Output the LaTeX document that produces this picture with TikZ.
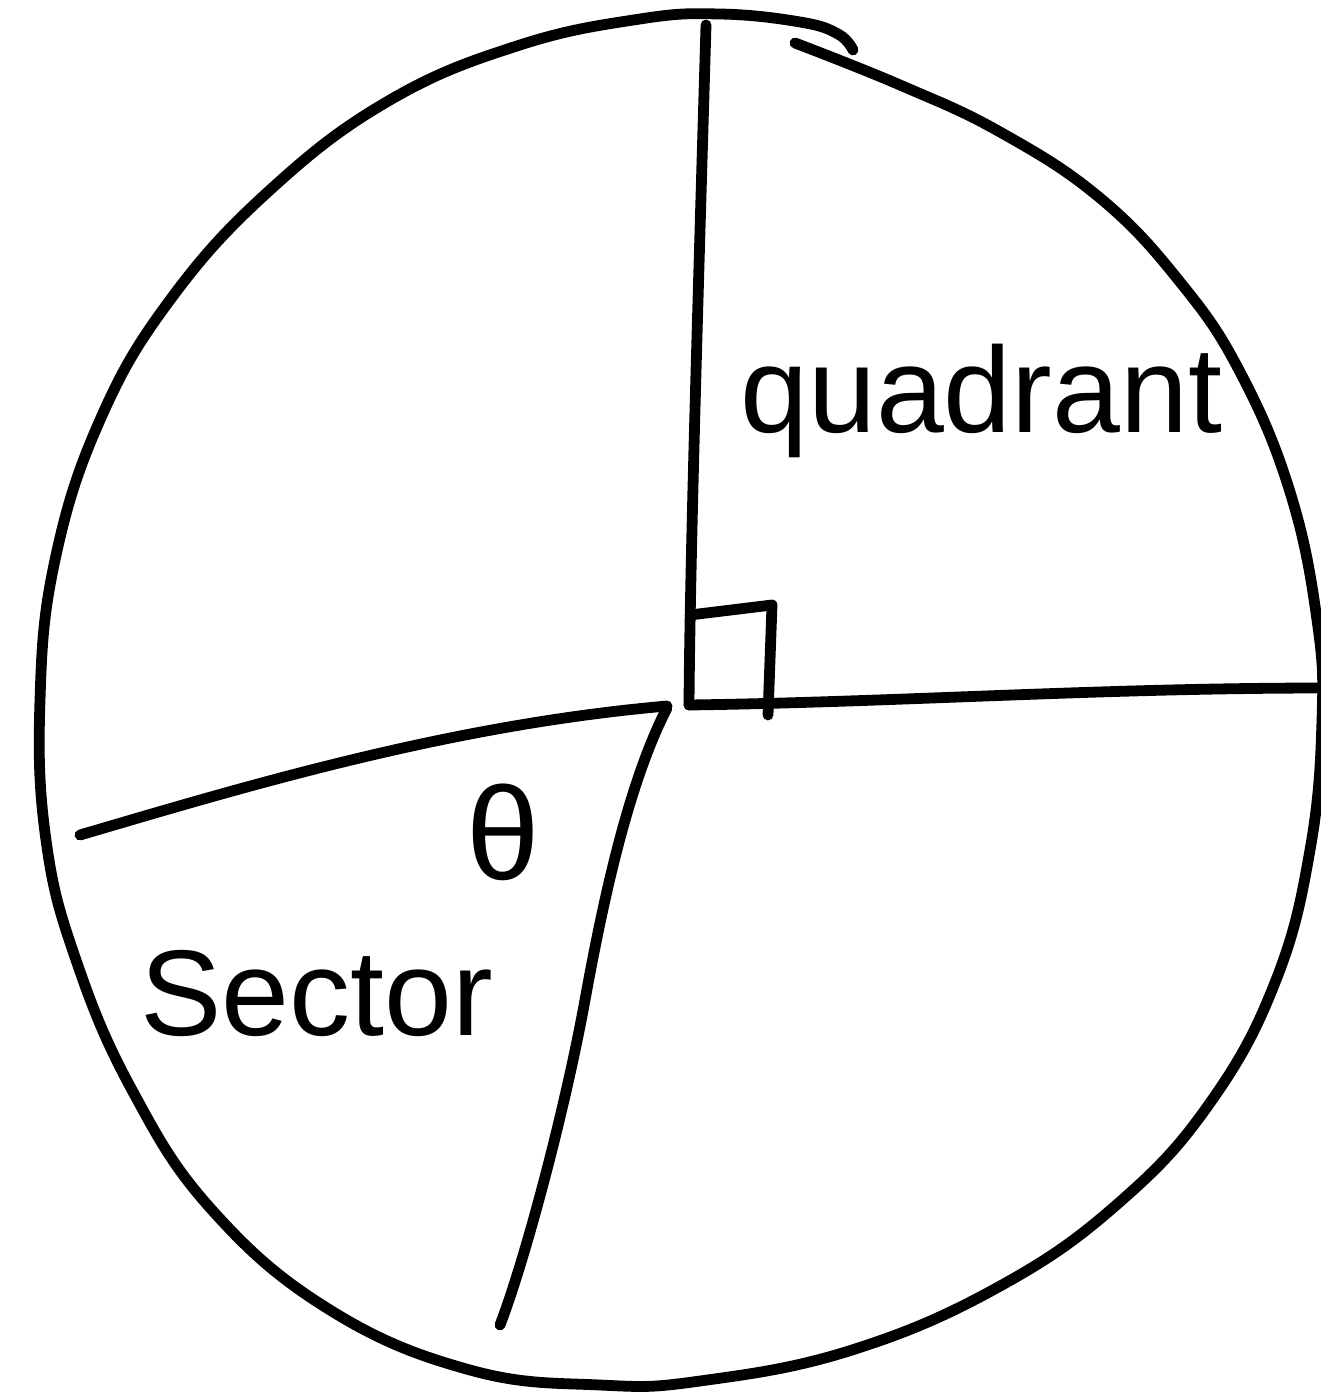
\documentclass[tikz,border=0pt]{standalone}
\usepackage{fontspec}
\setmainfont{Liberation Sans}
\begin{document}
\begin{tikzpicture}[x=0.5pt,y=-0.5pt,
  pen/.style={line width=5.4pt, line cap=round, line join=round, black},
  lbl/.style={anchor=base west, inner sep=0pt, font=\fontsize{61}{70}\selectfont}]
\useasboundingbox (0,0) rectangle (1321,1396);
\fill[white] (0,0) rectangle (1321,1396);
\clip (0,0) rectangle (1321,1396);
% key points
\coordinate (O) at (689,705);
\coordinate (top) at (706,25);
\coordinate (east) at (1325,688);
\coordinate (west) at (80,835);
\coordinate (south) at (500,1325);
% circle (hand drawn, open with hook at top)
\draw[pen] plot[smooth, tension=0.7] coordinates {
 (795,43) (900,85) (1000,132) (1100,198) (1180,282) (1240,372) (1290,492)
 (1317,620) (1322,720) (1310,850) (1276,980) (1212,1100) (1122,1200)
 (1002,1285) (852,1350) (700,1381) (600,1385) (470,1370) (330,1310)
 (212,1210) (132,1090) (76,960) (46,840) (40,700) (55,560) (100,420)
 (170,300) (270,190) (390,100) (520,45) (640,19) (720,14) (800,22)
 (838,34) (853,50)};
% vertical radius
\draw[pen] (top) .. controls (698,300) and (690,560) .. (O);
% horizontal radius to the right
\draw[pen] (O) .. controls (900,702) and (1100,688) .. (east);
% left radius
\draw[pen] (667,706) .. controls (450,725) and (250,785) .. (west);
% lower radius
\draw[pen] (667,708) .. controls (630,780) and (605,890) .. (585,1000)
  .. controls (565,1110) and (525,1260) .. (south);
% right-angle mark
\draw[pen] (690,615) -- (772,605) -- (768,715);
% labels
\node[lbl] (quad) at (740,432) {quadrant};
\node[lbl] (sect) at (140,1035) {Sector};
\node[inner sep=0pt, font=\fontsize{66}{70}\selectfont] (theta) at (503,832) {θ};
\end{tikzpicture}
\end{document}
